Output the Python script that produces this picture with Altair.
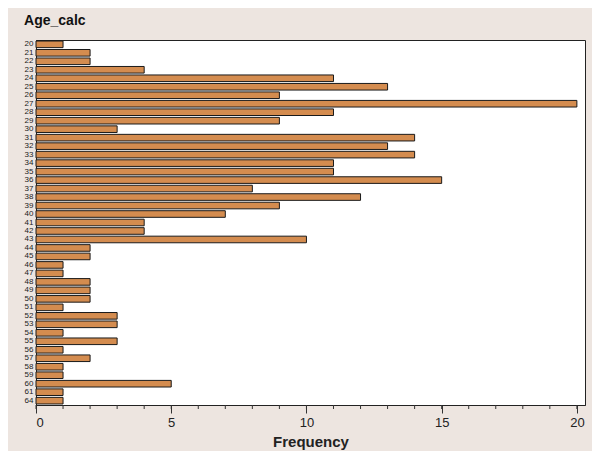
import altair as alt
import pandas as pd

ages = [20, 21, 22, 23, 24, 25, 26, 27, 28, 29, 30, 31, 32, 33, 34, 35, 36, 37, 38, 39,
        40, 41, 42, 43, 44, 45, 46, 47, 48, 49, 50, 51, 52, 53, 54, 55, 56, 57, 58, 59,
        60, 61, 64]
freqs = [1, 2, 2, 4, 11, 13, 9, 20, 11, 9, 3, 14, 13, 14, 11, 11, 15, 8, 12, 9,
         7, 4, 4, 10, 2, 2, 1, 1, 2, 2, 2, 1, 3, 3, 1, 3, 1, 2, 1, 1,
         5, 1, 1]
minor_ticks = list(range(0, 21))
major_ticks = [0, 5, 10, 15, 20]

df = pd.DataFrame({"Age": [str(a) for a in ages], "Frequency": freqs})
ticks_df = pd.DataFrame({"t": minor_ticks})

W, H = 549, 365
xscale = alt.Scale(domain=[0, 20.3], nice=False, zero=True)

bars = alt.Chart(df).mark_bar(
    color="#D48C4F", stroke="#1a1a1a", strokeWidth=1
).encode(
    y=alt.Y("Age:N", sort=[str(a) for a in ages],
            scale=alt.Scale(paddingInner=0.22, paddingOuter=0.12),
            axis=alt.Axis(title=None, labelFontSize=8, labelColor="#222",
                          tickSize=0, labelPadding=3, domainColor="#222",
                          labelFont="Arial")),
    x=alt.X("Frequency:Q", scale=xscale,
            axis=alt.Axis(values=major_ticks, title="Frequency", tickSize=8,
                          tickColor="#333", domainColor="#222", grid=False,
                          labelFontSize=13, labelFontWeight="normal", labelColor="#222",
                          labelPadding=3, titleFontSize=15, titleFontWeight="bold",
                          titleColor="#222", titlePadding=5, labelFont="Liberation Sans",
                          titleFont="Liberation Sans", format="d")),
)

minor = alt.Chart(ticks_df).mark_rule(color="#333", strokeWidth=1).encode(
    x=alt.X("t:Q", scale=xscale),
    y=alt.value(H),
    y2=alt.value(H + 4),
)

chart = alt.layer(bars, minor).properties(
    width=W, height=H,
    title=alt.TitleParams("Age_calc", anchor="start", dx=0, offset=12,
                          fontSize=14, fontWeight="bold", font="Liberation Sans",
                          color="#111"),
    background="#EDE5E0",
    padding={"left": 28, "top": 32, "right": 7, "bottom": 46},
    autosize=alt.AutoSizeParams(type="none"),
).configure_view(stroke="#222", strokeWidth=1, fill="white")

chart.save("out.html", embed_options={"renderer": "svg", "actions": False})
